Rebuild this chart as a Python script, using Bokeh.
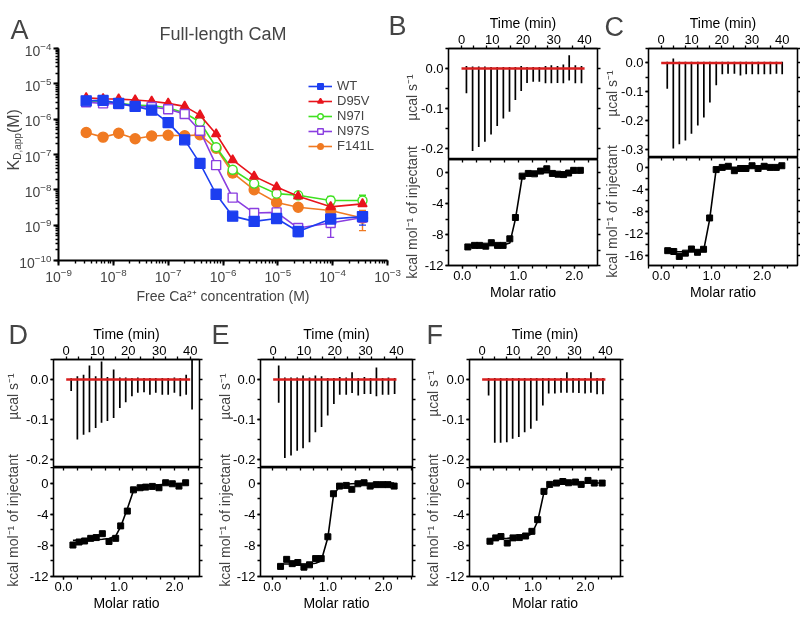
import math
from bokeh.plotting import figure
from bokeh.models import (Range1d, LinearAxis, FixedTicker, PrintfTickFormatter, Label,
                          Legend, LegendItem, Whisker, ColumnDataSource, TeeHead)
from bokeh.embed import file_html
from bokeh.resources import INLINE

FONT = "Liberation Sans"
RED = "#d81e1e"

# ---------------- Panel A data ----------------
ca_free = [3.2e-9, 6.5e-9, 1.25e-8, 2.5e-8, 5e-8, 1e-7, 2e-7, 3.8e-7, 7.5e-7, 1.5e-6,
           3.7e-6, 9.5e-6, 2.35e-5, 9.2e-5, 3.5e-4]
kd_wt = [3.3e-6, 3.4e-6, 2.8e-6, 2.3e-6, 1.8e-6, 8.0e-7, 2.6e-7, 5.6e-8, 7.5e-9, 1.8e-9,
         1.28e-9, 1.55e-9, 6.6e-10, 1.5e-9, 1.75e-9]
kd_d95v = [4.0e-6, 3.8e-6, 3.7e-6, 3.5e-6, 3.2e-6, 2.8e-6, 2.3e-6, 1.3e-6, 3.8e-7, 7.0e-8,
           2.4e-8, 1.2e-8, 6.6e-9, 3.3e-9, 4.0e-9]
kd_n97i = [3.3e-6, 3.2e-6, 2.8e-6, 2.5e-6, 2.4e-6, 2.1e-6, 1.5e-6, 8.3e-7, 1.6e-7, 3.7e-8,
           1.5e-8, 7.8e-9, 7.0e-9, 5.0e-9, 5.0e-9]
kd_n97s = [3.0e-6, 2.8e-6, 2.7e-6, 2.3e-6, 2.2e-6, 1.9e-6, 1.4e-6, 4.7e-7, 5.0e-8, 6.0e-9,
           2.2e-9, 2.3e-9, 8.3e-10, 1.15e-9, 1.65e-9]
kd_f141l = [4.2e-7, 3.1e-7, 4.0e-7, 2.8e-7, 3.35e-7, 3.5e-7, 3.4e-7, 3.6e-7, 1.5e-7, 3.0e-8,
            1.0e-8, 4.4e-9, 3.2e-9, 2.6e-9, 1.6e-9]

# error bars (x, lower, upper)
err_wt = ([2.35e-5, 3.5e-4], [4.8e-10, 1.0e-9], [8.5e-10, 2.3e-9])
err_d95v = ([9.2e-5], [2.7e-9], [3.9e-9])
err_n97i = ([9.2e-5, 3.5e-4], [3.8e-9, 3.6e-9], [6.5e-9, 7.0e-9])
err_n97s = ([9.2e-5, 3.5e-4], [4.5e-10, 1.2e-9], [1.7e-9, 2.1e-9])
err_f141l = ([1.5e-6, 3.5e-4], [2.3e-8, 7.0e-10], [3.8e-8, 2.6e-9])

# ---------------- ITC tick labels ----------------
time_labels = [0, 10, 20, 30, 40]
time_marks = [0, 4, 8, 12, 16, 20, 24, 28, 32, 36, 40]
ratio_labels = [0, 1, 2]
ratio_marks = [-0.25, 0, 0.25, 0.5, 0.75, 1, 1.25, 1.5, 1.75, 2, 2.25, 2.5, 2.75]
power_labels_3 = [-0.2, -0.1, 0.0]
power_marks_3 = [-0.2, -0.15, -0.1, -0.05, 0.0, 0.05]
power_labels_4 = [-0.3, -0.2, -0.1, 0.0]
power_marks_4 = [-0.3, -0.25, -0.2, -0.15, -0.1, -0.05, 0.0, 0.05]
heat_labels_12 = [-12, -8, -4, 0]
heat_marks_12 = [-12, -10, -8, -6, -4, -2, 0, 2]
heat_labels_16 = [-16, -12, -8, -4, 0]
heat_marks_16 = [-16, -14, -12, -10, -8, -6, -4, -2, 0]

base_time = [0, 40]
base_power = [0, 0]

# ---------------- Panel B ----------------
b_time = [1.6, 3.6, 5.6, 7.6, 9.6, 11.6, 13.6, 15.6, 17.5, 19.4, 21.3, 23.3, 25.3, 27.3, 29.2,
          31.2, 33.1, 35.0, 37.0, 39.0]
b_peak = [-0.062, -0.206, -0.196, -0.183, -0.165, -0.144, -0.125, -0.108, -0.079, -0.056,
          -0.036, -0.033, -0.033, -0.037, -0.037, -0.036, -0.037, -0.030, -0.037, -0.037]
b_top = [0.006, 0.005, 0.005, 0.005, 0.004, 0.004, 0.004, 0.004, 0.004, 0.006, 0.004, 0.004,
         0.004, 0.006, 0.008, 0.006, 0.010, 0.033, 0.008, 0.006]
b_ratio = [0.10, 0.22, 0.31, 0.42, 0.52, 0.63, 0.73, 0.85, 0.95, 1.07, 1.18, 1.29, 1.40, 1.51,
           1.61, 1.71, 1.81, 1.90, 1.99, 2.11]
b_heat = [-9.6, -9.4, -9.4, -9.5, -9.05, -9.4, -9.4, -8.55, -5.8, -0.45, -0.1, -0.15, 0.2, 0.5,
          -0.1, -0.2, -0.25, -0.05, 0.3, 0.3]
b_fit = [-9.42, -9.42, -9.42, -9.42, -9.41, -9.40, -9.35, -9.10, -6.00, -0.60, -0.10, -0.03,
         0.0, 0.0, 0.0, 0.0, 0.0, 0.0, 0.0, 0.0]

# ---------------- Panel C ----------------
c_time = [2.0, 4.0, 6.0, 8.0, 10.0, 12.1, 14.1, 16.1, 18.2, 20.2, 22.1, 24.2, 26.2, 28.1, 30.1,
          32.1, 34.1, 36.1, 38.1, 40.0]
c_peak = [-0.089, -0.296, -0.281, -0.268, -0.245, -0.216, -0.189, -0.137, -0.077, -0.039,
          -0.037, -0.037, -0.043, -0.039, -0.039, -0.039, -0.039, -0.039, -0.037, -0.039]
c_top = [0.004, 0.015, 0.004, 0.004, 0.004, 0.004, 0.004, 0.004, 0.004, 0.004, 0.004, 0.004,
         0.004, 0.004, 0.004, 0.004, 0.004, 0.004, 0.004, 0.004]
c_ratio = [0.13, 0.25, 0.36, 0.48, 0.60, 0.72, 0.84, 0.96, 1.09, 1.21, 1.33, 1.45, 1.57, 1.68,
           1.80, 1.92, 2.04, 2.16, 2.28, 2.39]
c_heat = [-15.15, -15.3, -16.2, -15.6, -14.85, -15.45, -14.9, -9.2, -0.4, 0.0, 0.2, -0.6, -0.2,
          -0.2, 0.3, -0.2, 0.2, 0.0, 0.0, 0.3]
c_fit = [-15.35, -15.35, -15.35, -15.35, -15.33, -15.30, -15.20, -9.50, -0.30, -0.05, 0.0, 0.0,
         0.0, 0.0, 0.0, 0.0, 0.0, 0.0, 0.0, 0.0]

# ---------------- Panel D ----------------
d_time = [1.6, 3.6, 5.6, 7.5, 9.5, 11.4, 13.3, 15.3, 17.3, 19.2, 21.2, 23.1, 25.1, 27.0, 28.9,
          31.0, 32.9, 34.9, 36.8, 38.7, 40.6]
d_peak = [-0.029, -0.150, -0.138, -0.132, -0.121, -0.108, -0.104, -0.096, -0.071, -0.057,
          -0.042, -0.033, -0.032, -0.038, -0.033, -0.038, -0.038, -0.033, -0.042, -0.038, -0.075]
d_top = [0.003, 0.008, 0.012, 0.035, 0.008, 0.045, 0.006, 0.025, 0.005, 0.005, 0.004, 0.005,
         0.004, 0.004, 0.004, 0.004, 0.004, 0.005, 0.004, 0.012, 0.050]
d_ratio = [0.17, 0.28, 0.38, 0.49, 0.59, 0.70, 0.82, 0.94, 1.03, 1.15, 1.26, 1.38, 1.48, 1.60,
           1.72, 1.84, 1.96, 2.08, 2.20]
d_heat = [-7.96, -7.57, -7.44, -7.1, -7.0, -6.5, -7.5, -7.1, -5.5, -3.6, -0.87, -0.6, -0.52,
          -0.43, -0.6, 0.04, -0.09, -0.39, 0.04]
d_fit = [-7.36, -7.35, -7.33, -7.30, -7.27, -7.22, -7.12, -6.80, -5.60, -3.30, -1.00, -0.55,
         -0.40, -0.30, -0.22, -0.16, -0.11, -0.08, -0.05]

# ---------------- Panel E ----------------
e_time = [1.8, 3.8, 5.8, 7.8, 9.7, 11.8, 13.7, 15.7, 17.7, 19.7, 21.6, 23.7, 25.6, 27.6, 29.6,
          31.6, 33.5, 35.5, 37.4, 39.4]
e_peak = [-0.058, -0.196, -0.190, -0.178, -0.172, -0.157, -0.132, -0.119, -0.090, -0.061,
          -0.038, -0.038, -0.034, -0.040, -0.036, -0.036, -0.042, -0.038, -0.038, -0.036]
e_top = [0.035, 0.005, 0.005, 0.005, 0.010, 0.005, 0.010, 0.008, 0.004, 0.004, 0.006, 0.005,
         0.018, 0.004, 0.006, 0.004, 0.030, 0.004, 0.005, 0.004]
e_ratio = [0.15, 0.26, 0.36, 0.46, 0.57, 0.67, 0.78, 0.88, 1.00, 1.10, 1.21, 1.33, 1.43, 1.54,
           1.65, 1.76, 1.87, 1.98, 2.08, 2.19]
e_heat = [-10.7, -9.8, -10.35, -10.2, -10.8, -10.5, -9.7, -9.7, -6.9, -1.37, -0.39, -0.3, -0.8,
          -0.09, 0.04, -0.39, -0.2, -0.2, -0.2, -0.39]
e_fit = [-10.40, -10.40, -10.40, -10.40, -10.40, -10.38, -10.30, -10.00, -7.00, -1.60, -0.40,
         -0.15, -0.08, -0.05, -0.03, -0.02, -0.02, -0.01, -0.01, -0.01]

# ---------------- Panel F ----------------
f_time = [2.1, 4.1, 6.0, 8.0, 9.9, 11.9, 13.8, 15.8, 17.7, 19.7, 21.6, 23.6, 25.6, 27.5, 29.5,
          31.4, 33.4, 35.3, 37.3, 39.2]
f_peak = [-0.040, -0.158, -0.158, -0.157, -0.148, -0.144, -0.132, -0.123, -0.103, -0.065,
          -0.035, -0.035, -0.033, -0.033, -0.033, -0.034, -0.035, -0.033, -0.037, -0.037]
f_top = [0.004, 0.004, 0.004, 0.004, 0.004, 0.004, 0.004, 0.004, 0.004, 0.004, 0.004, 0.004,
         0.004, 0.018, 0.004, 0.004, 0.004, 0.018, 0.004, 0.004]
f_ratio = [0.18, 0.29, 0.39, 0.51, 0.62, 0.74, 0.86, 0.98, 1.09, 1.21, 1.32, 1.45, 1.57, 1.68,
           1.81, 1.92, 2.05, 2.17, 2.32]
f_heat = [-7.47, -7.04, -6.87, -7.7, -7.04, -7.0, -6.8, -6.2, -4.7, -1.07, -0.17, 0.0, 0.2, 0.04,
          0.13, -0.17, 0.34, 0.0, 0.0]
f_fit = [-7.15, -7.13, -7.11, -7.08, -7.05, -7.00, -6.90, -6.50, -4.90, -1.20, -0.25, -0.05,
         0.0, 0.0, 0.0, 0.0, 0.0, 0.0, 0.0]

PAGE_H = 617


def place(p, left, top):
    p.styles = {"position": "fixed", "left": f"{left}px", "top": f"{top}px"}
    return p


def style_axis(ax, majors, minors, fmt=None, size="13px", tick_out=3, tick_in=0,
               major_marks=True, lw=1.3):
    ax.ticker = FixedTicker(ticks=majors, minor_ticks=minors)
    if fmt is not None:
        ax.formatter = PrintfTickFormatter(format=fmt)
    ax.axis_line_width = lw
    ax.axis_line_color = "black"
    ax.major_tick_line_width = lw
    ax.minor_tick_line_width = lw
    ax.major_tick_out = tick_out if major_marks else 0
    ax.major_tick_in = tick_in if major_marks else 0
    ax.minor_tick_out = tick_out
    ax.minor_tick_in = tick_in
    ax.major_label_text_font = FONT
    ax.major_label_text_font_size = size
    ax.major_label_text_color = "black"
    ax.major_label_standoff = 2 if majors else 0
    ax.axis_label_text_font = FONT
    ax.axis_label_text_font_size = "14px"
    ax.axis_label_text_font_style = "normal"
    ax.axis_label_text_color = "black"
    ax.axis_label_standoff = 1


def itc_upper(w, h, bl, br, bt, t_range, p_range, times, peaks, tops, p_labels, p_marks):
    p = figure(width=w, height=h, x_range=Range1d(*t_range), y_range=Range1d(*p_range),
               x_axis_location="above", toolbar_location=None, output_backend="svg",
               min_border_left=bl, min_border_right=br, min_border_top=bt,
               min_border_bottom=0)
    p.grid.visible = False
    p.outline_line_color = "black"
    p.outline_line_width = 1.3
    style_axis(p.xaxis[0], time_labels, time_marks, fmt="%d", major_marks=False)
    p.xaxis[0].axis_label = "Time (min)"
    style_axis(p.yaxis[0], p_labels, p_marks, fmt="%.1f")
    ax_r = LinearAxis()
    p.add_layout(ax_r, "right")
    style_axis(ax_r, [], p_marks)
    src = ColumnDataSource(dict(t=times, lo=peaks, hi=tops))
    p.segment(x0="t", y0="hi", x1="t", y1="lo", source=src, line_color="black",
              line_width=1.7)
    p.line(base_time, base_power, line_color=RED, line_width=2.6)
    return p


def itc_lower(w, h, bl, br, bb, m_range, k_range, ratio, heat, fit, k_labels, k_marks):
    p = figure(width=w, height=h, x_range=Range1d(*m_range), y_range=Range1d(*k_range),
               toolbar_location=None, output_backend="svg",
               min_border_left=bl, min_border_right=br, min_border_top=0,
               min_border_bottom=bb)
    p.grid.visible = False
    p.outline_line_color = "black"
    p.outline_line_width = 1.3
    style_axis(p.xaxis[0], ratio_labels, ratio_marks, fmt="%.1f")
    p.xaxis[0].axis_label = "Molar ratio"
    style_axis(p.yaxis[0], k_labels, k_marks, fmt="%d")
    ax_r = LinearAxis()
    p.add_layout(ax_r, "right")
    style_axis(ax_r, [], k_marks)
    ax_t = LinearAxis()
    p.add_layout(ax_t, "above")
    style_axis(ax_t, [], ratio_marks, tick_out=0, tick_in=3)
    p.line(ratio, fit, line_color="black", line_width=1.6)
    p.scatter(ratio, heat, marker="square", size=6, color="black")
    return p


# ---------------- Panel A figure ----------------
pA = figure(width=402, height=306, x_axis_type="log", y_axis_type="log",
            x_range=Range1d(1e-9, 1e-3), y_range=Range1d(1e-10, 1e-4),
            toolbar_location=None, output_backend="svg", title="Full-length CaM",
            min_border_left=58, min_border_right=15, min_border_top=48,
            min_border_bottom=42)
pA.title.text_font = FONT
pA.title.text_font_size = "18px"
pA.title.text_font_style = "normal"
pA.title.align = "center"
pA.title.standoff = 10
pA.grid.visible = False
pA.outline_line_color = None
for ax in (pA.xaxis[0], pA.yaxis[0]):
    ax.axis_line_width = 2
    ax.major_tick_line_width = 2
    ax.minor_tick_line_width = 1.4
    ax.major_tick_out = 5
    ax.major_tick_in = 0
    ax.minor_tick_out = 3
    ax.minor_tick_in = 0
    ax.major_label_text_font = FONT
    ax.major_label_text_font_size = "14px"
    ax.major_label_standoff = 2
    ax.axis_label_text_font = FONT
    ax.axis_label_text_font_size = "14px"
    ax.axis_label_text_font_style = "normal"
    ax.axis_label_standoff = 3
pA.xaxis[0].axis_label = "Free Ca²⁺ concentration (M)"

series = [
    ("WT", kd_wt, err_wt, "#1c3ef0", "square", "#1c3ef0", 10),
    ("D95V", kd_d95v, err_d95v, "#e8141c", "triangle", "#e8141c", 9),
    ("N97I", kd_n97i, err_n97i, "#3fe020", "circle", "white", 9),
    ("N97S", kd_n97s, err_n97s, "#8a3ee0", "square", "white", 9),
    ("F141L", kd_f141l, err_f141l, "#f07a22", "circle", "#f07a22", 10),
]
draw_order = [4, 2, 1, 3, 0]
renderers = {}
for i in draw_order:
    name, ys, err, col, mk, fill, sz = series[i]
    esrc = ColumnDataSource(dict(x=err[0], lo=err[1], hi=err[2]))
    pA.add_layout(Whisker(base="x", lower="lo", upper="hi", source=esrc, line_color=col,
                          line_width=1.4,
                          upper_head=TeeHead(size=7, line_color=col, line_width=1.4),
                          lower_head=TeeHead(size=7, line_color=col, line_width=1.4)))
    ln = pA.line(ca_free, ys, line_color=col, line_width=1.6)
    sc = pA.scatter(ca_free, ys, marker=mk, size=sz, line_color=col, fill_color=fill,
                    line_width=1.4)
    renderers[name] = [ln, sc]
legend = Legend(items=[LegendItem(label=s[0], renderers=renderers[s[0]]) for s in series],
                location=(250, 107), border_line_color=None, background_fill_alpha=0,
                label_text_font=FONT, label_text_font_size="13px", glyph_width=24,
                glyph_height=14, label_height=14, spacing=0, padding=0, margin=0,
                label_standoff=5)
pA.add_layout(legend)
place(pA, 0, 0)

# ---------------- ITC figures (page positions of each canvas) ----------------
upB = place(itc_upper(183, 159, 30, 4, 48, (-4.23, 44.2), (-0.2275, 0.05), b_time, b_peak,
                      b_top, power_labels_3, power_marks_3), 418, 0)
loB = place(itc_lower(183, 147, 30, 4, 41, (-0.245, 2.416), (-12, 1.7), b_ratio, b_heat,
                      b_fit, heat_labels_12, heat_marks_12), 418, 159)
upC = place(itc_upper(182, 157, 30, 3, 48, (-4.2, 45.06), (-0.327, 0.05), c_time, c_peak,
                      c_top, power_labels_4, power_marks_4), 618, 0)
loC = place(itc_lower(182, 149, 30, 3, 41, (-0.25, 2.70), (-17.85, 1.8), c_ratio, c_heat,
                      c_fit, heat_labels_16, heat_marks_16), 618, 157)
upD = place(itc_upper(180, 161, 30, 4, 53, (-4.1, 43.0), (-0.22, 0.05), d_time, d_peak,
                      d_top, power_labels_3, power_marks_3), 23, 306)
loD = place(itc_lower(180, 150, 30, 4, 41, (-0.18, 2.45), (-12, 2), d_ratio, d_heat, d_fit,
                      heat_labels_12, heat_marks_12), 23, 467)
upE = place(itc_upper(186, 161, 30, 4, 53, (-4.1, 45.2), (-0.22, 0.05), e_time, e_peak,
                      e_top, power_labels_3, power_marks_3), 230, 306)
loE = place(itc_lower(186, 150, 30, 4, 41, (-0.21, 2.52), (-12, 2), e_ratio, e_heat, e_fit,
                      heat_labels_12, heat_marks_12), 230, 467)
upF = place(itc_upper(185, 161, 30, 4, 53, (-4.1, 44.9), (-0.22, 0.05), f_time, f_peak,
                      f_top, power_labels_3, power_marks_3), 439, 306)
loF = place(itc_lower(185, 150, 30, 4, 41, (-0.21, 2.67), (-12, 2), f_ratio, f_heat, f_fit,
                      heat_labels_12, heat_marks_12), 439, 467)

# ---------------- transparent overlay with free texts (page pixel positions) ----------------
ov = figure(width=800, height=PAGE_H, x_range=Range1d(0, 800), y_range=Range1d(0, PAGE_H),
            toolbar_location=None, output_backend="svg", min_border=0,
            x_axis_type=None, y_axis_type=None)
ov.outline_line_color = None
ov.background_fill_color = None
ov.border_fill_color = None
ov.grid.visible = False


def txt(text, x, y, size, angle=0.0, align="left", baseline="alphabetic"):
    ov.add_layout(Label(x=x, y=PAGE_H - y, x_units="screen", y_units="screen", text=text,
                        text_font=FONT, text_font_size=size, angle=angle,
                        text_align=align, text_baseline=baseline))


for letter, lx, ly in [("A", 10, 29), ("B", 388, 25), ("C", 604, 26),
                       ("D", 8, 334.5), ("E", 211, 334.5), ("F", 426, 334.5)]:
    txt(letter, lx, ly, "27px")

for cx, y_up, y_low in [(411, 97, 212), (611, 93, 211), (12, 396, 520), (224, 396, 520),
                        (432, 393, 520)]:
    txt("µcal s⁻¹", cx, y_up, "14px", math.pi / 2, "center", "middle")
    txt("kcal mol⁻¹ of injectant", cx, y_low, "14px", math.pi / 2, "center", "middle")

txt("K", 12.5, 170, "16px", math.pi / 2, "left", "middle")
txt("D,app", 16.5, 159.3, "10px", math.pi / 2, "left", "middle")
txt(" (M)", 12.5, 132.6, "16px", math.pi / 2, "left", "middle")
place(ov, 0, 0)

roots = [pA, upB, loB, upC, loC, upD, loD, upE, loE, upF, loF, ov]
open("out.html", "w").write(file_html(roots, INLINE, "CaM binding"))
